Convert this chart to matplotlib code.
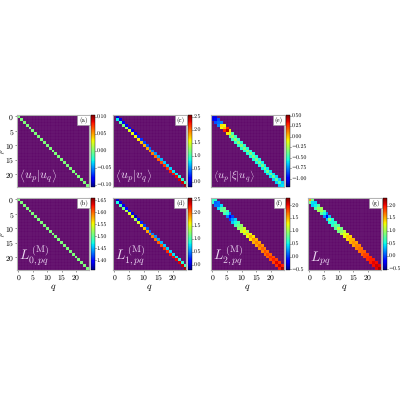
import numpy as np
import matplotlib
matplotlib.use("Agg")
import matplotlib.pyplot as plt

plt.rcParams["font.family"] = ["cmr10", "DejaVu Serif"]
plt.rcParams["mathtext.fontset"] = "cm"
plt.rcParams["axes.formatter.use_mathtext"] = True
plt.rcParams["axes.unicode_minus"] = False
plt.rcParams["text.hinting"] = "no_hinting"
plt.rcParams["text.hinting_factor"] = 1

nan = float("nan")

# diagonal / first off-diagonal
a_diag = [0.0] * 25
b_diag = [1.51] * 25

c_diag = [nan, 0.80, 1.05, 1.20, 1.35, 1.50, 1.55, 1.60, 1.65, 1.75, 1.80, 1.85, 1.90,
          1.95, 2.00, 2.05, 2.10, 2.15, 2.20, 2.25, 2.28, 2.32, 2.36, 2.40, 2.50]
c_upper = [0.00, 0.05, 0.10, 0.15, 0.20, 0.10, 0.15, 0.25, 0.30, 0.35, 0.40, 0.45,
           0.50, 0.55, 0.60, 0.65, 0.70, 0.72, 0.75, 0.78, 0.80, 0.85, 0.90, 1.00]

d_diag = [nan, 0.85, 1.05, 1.20, 1.35, 1.50, 1.55, 1.30, 1.50, 1.65, 1.75, 1.85, 1.90,
          1.95, 2.00, 2.05, 2.10, 2.15, 2.20, 2.25, 2.28, 2.32, 2.36, 2.40, 2.50]
d_upper = [0.00, 0.05, 0.10, 0.15, 0.20, 0.05, 0.00, 0.10, 0.25, 0.35, 0.40, 0.45,
           0.50, 0.55, 0.60, 0.65, 0.70, 0.72, 0.75, 0.78, 0.80, 0.85, 0.90, 1.00]

e_diag = [-1.05, -1.00, -0.80, -0.05, 0.00, 0.45, -0.15, -0.28, -0.30, -0.30, -0.32, -0.32, -0.33,
          -0.33, -0.34, -0.35, -0.35, -0.36, -0.37, -0.38, -0.39, -0.40, -0.42, -0.44, -0.60]
e_upper = [-1.05, -0.85, -0.75, -0.10, 0.30, -0.05, -0.45, -0.50, -0.50, -0.52, -0.52, -0.53,
           -0.54, -0.55, -0.55, -0.56, -0.57, -0.58, -0.58, -0.60, -0.60, -0.62, -0.63, -0.65]

f_diag = [0.65, 0.10, 0.15, 0.75, 0.85, 0.60, -0.20, 0.25, 0.55, 0.85, 1.05, 1.30, 1.40,
          1.50, 1.60, 1.65, 1.70, 1.75, 1.80, 1.85, 1.90, 1.95, 2.05, 2.10, 2.20]
f_upper = [0.60, 0.15, 0.45, 0.80, 0.70, 0.20, 0.00, 0.40, 0.70, 0.95, 1.15, 1.05, 1.25,
           1.35, 1.50, 1.55, 1.60, 1.65, 1.70, 1.75, 1.80, 1.85, 1.90, 1.95]

g_diag = [1.55, 0.45, 0.50, 0.95, 1.00, 0.55, -0.25, 0.95, 0.55, 0.80, 1.10, 0.95, 1.25,
          1.45, 1.50, 1.60, 1.65, 1.70, 1.75, 1.85, 1.90, 1.95, 2.05, 2.10, 2.20]
g_upper = [0.85, 0.40, 0.70, 1.00, 0.75, 0.20, 0.35, 0.55, 0.60, 0.75, 0.85, 1.10, 1.25,
           1.40, 1.50, 1.55, 1.65, 1.70, 1.75, 1.85, 1.90, 1.95, 2.00, 2.05]

W = 400
BG = "#600a6a"
GRID = "#722a7c"


def build(diag, upper=None, symmetric=False):
    m = np.full((25, 25), np.nan)
    m[np.arange(25), np.arange(25)] = diag
    if upper is not None:
        m[np.arange(24), np.arange(1, 25)] = upper
        if symmetric:
            m[np.arange(1, 25), np.arange(24)] = upper
    return m


def panel(x0, y0, x1, y1, m, vmin, vmax, cticks, cfmt, tag, label, fs, show_x, show_y):
    ax = fig.add_axes([x0 / W, 1 - y1 / W, (x1 - x0) / W, (y1 - y0) / W])
    ax.set_facecolor(BG)
    im = ax.imshow(m, cmap="jet", vmin=vmin, vmax=vmax, aspect="auto",
                   interpolation="nearest", zorder=2)
    ax.set_xticks(np.arange(-0.5, 25, 1), minor=True)
    ax.set_yticks(np.arange(-0.5, 25, 1), minor=True)
    ax.grid(which="minor", color=GRID, lw=0.3)
    ax.tick_params(which="minor", length=0)
    ax.tick_params(which="major", length=1.2, width=0.4, labelsize=5.5, pad=1, color="#444444")
    ax.set_axisbelow(True)
    ax.set_xticks([0, 5, 10, 15, 20])
    ax.set_yticks([0, 5, 10, 15, 20])
    if not show_x:
        ax.tick_params(axis="x", which="major", length=0, labelbottom=False)
    else:
        ax.set_xlabel(r"$q$", fontsize=7, labelpad=0)
    if not show_y:
        ax.tick_params(axis="y", which="major", length=0, labelleft=False)
    else:
        ax.set_ylabel(r"$p$", fontsize=5)
        ax.yaxis.set_label_coords(-0.15, 0.5)
    for s in ax.spines.values():
        s.set_color("#b0b0b0")
        s.set_linewidth(0.8)

    ax.text(0.985, 0.975, tag, transform=ax.transAxes, ha="right", va="top", fontsize=4.8,
            zorder=5, bbox=dict(boxstyle="square,pad=0.3", fc="white", ec="#999999", lw=0.4))
    ax.text(0.03, 0.04, label, transform=ax.transAxes, ha="left", va="bottom",
            fontsize=fs, color="#ecd8f2", zorder=5)

    cax = fig.add_axes([(x1 + 1.5) / W, 1 - y1 / W, 4 / W, (y1 - y0) / W])
    cb = fig.colorbar(im, cax=cax)
    cb.set_ticks(cticks)
    cb.set_ticklabels([cfmt % t if t >= 0 else "\u2212" + cfmt % abs(t) for t in cticks])
    cb.ax.tick_params(length=1, width=0.4, labelsize=4.2, pad=0.4)
    cb.outline.set_linewidth(0.3)


fig = plt.figure(figsize=(4, 4), dpi=100)

panel(17, 115, 89, 187, build(a_diag), -0.105, 0.105,
      [-0.10, -0.05, 0.0, 0.05, 0.10], "%.2f", "(a)",
      r"$\left\langle u_p | u_q \right\rangle$", 8.8, False, True)
panel(17, 198, 89, 270, build(b_diag), 1.36, 1.66,
      [1.40, 1.45, 1.50, 1.55, 1.60, 1.65], "%.2f", "(b)",
      r"$L_{0,pq}^{\,(\mathrm{M})}$", 10, True, True)
panel(113, 115, 186, 187, build(c_diag, c_upper), -0.19, 2.58,
      [0.0, 0.5, 1.0, 1.5, 2.0, 2.5], "%.1f", "(c)",
      r"$\left\langle u_p | v_q \right\rangle$", 8.8, False, False)
panel(113, 198, 186, 270, build(d_diag, d_upper), -0.19, 2.58,
      [0.0, 0.5, 1.0, 1.5, 2.0, 2.5], "%.1f", "(d)",
      r"$L_{1,pq}^{\,(\mathrm{M})}$", 10, True, False)
panel(211, 115, 284, 187, build(e_diag, e_upper, True), -1.2, 0.52,
      [-1.0, -0.75, -0.5, -0.25, 0.0, 0.25, 0.5], "%.2f", "(e)",
      r"$\left\langle u_p | \xi | u_q \right\rangle$", 7.8, False, False)
panel(211, 198, 284, 270, build(f_diag, f_upper, True), -0.52, 2.29,
      [-0.5, 0.0, 0.5, 1.0, 1.5, 2.0], "%.1f", "(f)",
      r"$L_{2,pq}^{\,(\mathrm{M})}$", 10, True, False)
panel(308, 198, 381, 270, build(g_diag, g_upper, True), -0.55, 2.3,
      [-0.5, 0.0, 0.5, 1.0, 1.5, 2.0], "%.1f", "(g)",
      r"$L_{pq}$", 10, True, False)

fig.savefig("out.png", dpi=100)
